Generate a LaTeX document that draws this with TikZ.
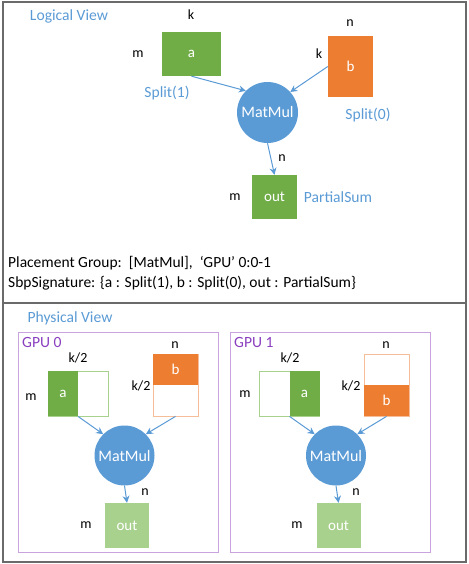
\documentclass[tikz,border=0pt]{standalone}
\usepackage{fontspec}
\setmainfont{Carlito}
\usetikzlibrary{arrows.meta}
\definecolor{cgreen}{HTML}{70AD47}
\definecolor{corange}{HTML}{ED7D31}
\definecolor{cblue}{HTML}{5B9BD5}
\definecolor{clgreen}{HTML}{A9D18E}
\definecolor{cpurple}{HTML}{8A3FBF}
\definecolor{cpborder}{HTML}{C9A3DE}
\definecolor{cframe}{HTML}{6A6A6A}
\tikzset{
  frame/.style={draw=cframe, line width=1.2pt},
  txt/.style={font=\fontsize{14}{16}\selectfont, inner sep=0pt},
  btxt/.style={font=\fontsize{15.6}{18}\selectfont, text=cblue, inner sep=0pt},
  ptxt/.style={font=\fontsize{15.6}{18}\selectfont, text=cpurple, inner sep=0pt, anchor=west},
  infotxt/.style={font=\fontsize{15.5}{18}\selectfont, inner sep=0pt, anchor=west},
  boxfont/.style={font=\fontsize{15}{17}\selectfont, text=white, inner sep=0pt},
  gbox/.style={boxfont, fill=cgreen, draw=none},
  obox/.style={boxfont, fill=corange, draw=none},
  lgbox/.style={boxfont, fill=clgreen, draw=none},
  hollowg/.style={draw=clgreen, fill=white, line width=0.8pt, inner sep=0pt},
  hollowo/.style={draw=corange!50, fill=white, line width=0.8pt, inner sep=0pt},
  mmcirc/.style={circle, fill=cblue, text=white, minimum size=61pt, inner sep=0pt, font=\fontsize{16}{18}\selectfont},
  gpubox/.style={draw=cpborder, line width=0.9pt, inner sep=0pt},
  arr/.style={draw=cblue, line width=1pt, -{Stealth[length=7pt,width=7pt]}}
}
\begin{document}
\begin{tikzpicture}[x=1pt,y=-1pt]
\useasboundingbox (0,0) rectangle (468,564);
\draw[frame] (3,2) rectangle (466,562);
\draw[frame] (3,303) -- (466,303);

% ---------- Logical view ----------
\node[btxt] (lv) at (69,16) {Logical View};
\node[gbox, minimum width=59pt, minimum height=44pt] (a) at (191.5,54) {a};
\node[txt] (ka) at (191,15) {k};
\node[txt] (ma) at (138,54) {m};
\node[btxt] (s1) at (167,93) {Split(1)};
\node[obox, minimum width=45pt, minimum height=61pt] (b) at (350.5,66.5) {b};
\node[txt] (nb) at (350,23) {n};
\node[txt] (kb) at (319,54) {k};
\node[btxt] (s0) at (368,115) {Split(0)};
\node[mmcirc] (mm) at (267.5,112.5) {MatMul};
\node[gbox, minimum width=45pt, minimum height=44pt] (out) at (274.5,197) {out};
\node[txt] (nout) at (282,158) {n};
\node[txt] (mout) at (235,197) {m};
\node[btxt] (ps) at (338,197) {PartialSum};
\draw[arr] (a.south) -- (mm.135);
\draw[arr] (b.west) -- (mm.42);
\draw[arr] (mm.south) -- (out.north);

\node[infotxt] (pg) at (8,263) {Placement Group:\ \ [MatMul],\ \ ‘GPU’ 0:0-1};
\node[infotxt] (sbp) at (8,283) {SbpSignature: \{a : Split(1), b : Split(0), out : PartialSum\}};

% ---------- Physical view ----------
\node[btxt] (pv) at (70,318) {Physical View};

% GPU 0
\node[gpubox, minimum width=200pt, minimum height=220pt] (g0) at (118,442) {};
\node[ptxt] (g0l) at (22,342) {GPU 0};
\node[hollowg, minimum width=60pt, minimum height=45pt] (a0) at (78,393.5) {};
\node[gbox, minimum width=30pt, minimum height=45pt] (a0h) at (63,393.5) {a};
\node[hollowo, minimum width=45pt, minimum height=62pt] (b0) at (175.5,385) {};
\node[obox, minimum width=45pt, minimum height=31pt] (b0h) at (175.5,369.5) {b};
\node[mmcirc, minimum size=60pt] (mm0) at (124.5,455.5) {MatMul};
\node[lgbox, minimum width=44pt, minimum height=45pt] (out0) at (127,525.5) {out};
\node[txt] (k0a) at (78,358) {k/2};
\node[txt] (m0a) at (31,397) {m};
\node[txt] (n0b) at (175,345) {n};
\node[txt] (k0b) at (141,386) {k/2};
\node[txt] (n0o) at (145,492) {n};
\node[txt] (m0o) at (86,525) {m};
\draw[arr] (a0.south) -- (mm0.135);
\draw[arr] (b0.south) -- (mm0.45);
\draw[arr] (mm0.south) -- (out0.north);

% GPU 1
\node[gpubox, minimum width=200pt, minimum height=220pt] (g1) at (330,442) {};
\node[ptxt] (g1l) at (234,342) {GPU 1};
\node[hollowg, minimum width=60pt, minimum height=45pt] (a1) at (289.5,393.5) {};
\node[gbox, minimum width=30pt, minimum height=45pt] (a1h) at (304.5,393.5) {a};
\node[hollowo, minimum width=45pt, minimum height=62pt] (b1) at (386.5,385) {};
\node[obox, minimum width=45pt, minimum height=31pt] (b1h) at (386.5,400.5) {b};
\node[mmcirc, minimum size=60pt] (mm1) at (336,455.5) {MatMul};
\node[lgbox, minimum width=44pt, minimum height=45pt] (out1) at (338.5,525.5) {out};
\node[txt] (k1a) at (290,358) {k/2};
\node[txt] (m1a) at (245,394) {m};
\node[txt] (n1b) at (386,345) {n};
\node[txt] (k1b) at (351,386) {k/2};
\node[txt] (n1o) at (356,492) {n};
\node[txt] (m1o) at (297,525) {m};
\draw[arr] (a1.south) -- (mm1.135);
\draw[arr] (b1.south) -- (mm1.45);
\draw[arr] (mm1.south) -- (out1.north);
\end{tikzpicture}
\end{document}
